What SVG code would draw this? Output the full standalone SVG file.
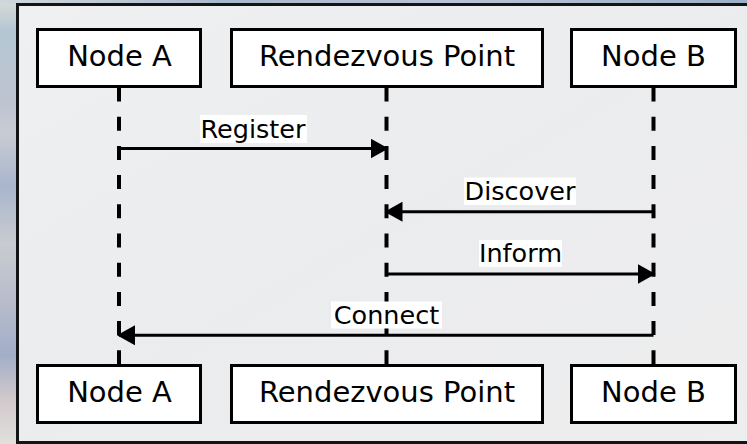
<svg xmlns="http://www.w3.org/2000/svg" width="747" height="444" viewBox="0 0 747 444">
  <defs>
    <linearGradient id="bgGrad" x1="0" y1="0" x2="0" y2="1">
      <stop offset="0" stop-color="#d8dcd8"/>
      <stop offset="0.07" stop-color="#b4c6d2"/>
      <stop offset="0.22" stop-color="#bcc4d0"/>
      <stop offset="0.3" stop-color="#c8ccd4"/>
      <stop offset="0.42" stop-color="#a8b6cc"/>
      <stop offset="0.55" stop-color="#c8ccd0"/>
      <stop offset="0.68" stop-color="#b8bccc"/>
      <stop offset="0.8" stop-color="#a2aec8"/>
      <stop offset="0.9" stop-color="#d2c9cc"/>
      <stop offset="1" stop-color="#e0e0dc"/>
    </linearGradient>
    <linearGradient id="topGrad" x1="0" y1="0" x2="1" y2="0">
      <stop offset="0" stop-color="#d0d8dc"/>
      <stop offset="0.3" stop-color="#a8b8cc"/>
      <stop offset="0.6" stop-color="#b8c4d4"/>
      <stop offset="1" stop-color="#9cb0c8"/>
    </linearGradient>
    <linearGradient id="panelGrad" x1="0" y1="0" x2="1" y2="1">
      <stop offset="0" stop-color="#eef0f1"/>
      <stop offset="0.5" stop-color="#ebecee"/>
      <stop offset="1" stop-color="#eeeeef"/>
    </linearGradient>
    <marker id="arrow" viewBox="0 0 18 20" refX="16" refY="10" markerWidth="18" markerHeight="20" markerUnits="userSpaceOnUse" orient="auto">
      <path d="M0,0 L18,10 L0,20 z" fill="#000"/>
    </marker>
    <style>
      .box { fill: #ffffff; stroke: #000000; stroke-width: 3; }
      .nodeText { font-family: "DejaVu Sans", "Liberation Sans", sans-serif; font-size: 29px; fill: #000; text-anchor: middle; }
      .lifeline { stroke: #000; stroke-width: 4; stroke-dasharray: 14 15.2; fill: none; }
      .msg { stroke: #000; stroke-width: 3; fill: none; marker-end: url(#arrow); }
      .labelBg { fill: #ffffff; }
      .labelText { font-family: "DejaVu Sans", "Liberation Sans", sans-serif; font-size: 25.5px; fill: #000; text-anchor: middle; }
    </style>
  </defs>

  <!-- background -->
  <rect x="0" y="0" width="747" height="444" fill="url(#bgGrad)"/>
  <rect x="0" y="0" width="747" height="4" fill="url(#topGrad)"/>
  <rect x="17.5" y="4.5" width="740" height="438" fill="url(#panelGrad)" stroke="#141414" stroke-width="3"/>

  <!-- lifelines -->
  <g id="lifelines">
    <line class="lifeline" x1="119" y1="87.5" x2="119" y2="364"/>
    <line class="lifeline" x1="386.5" y1="87.5" x2="386.5" y2="364"/>
    <line class="lifeline" x1="653.5" y1="87.5" x2="653.5" y2="364"/>
  </g>

  <!-- connectors -->
  <g id="connectors">
    <g id="msg-register">
      <line class="msg" x1="119" y1="148.5" x2="386.5" y2="148.5"/>
      <rect class="labelBg" x="200" y="115" width="107" height="28"/>
      <text class="labelText" x="253" y="138">Register</text>
    </g>
    <g id="msg-discover">
      <line class="msg" x1="653.5" y1="211.7" x2="386.5" y2="211.7"/>
      <rect class="labelBg" x="464" y="177.5" width="112" height="27.5"/>
      <text class="labelText" x="520" y="200">Discover</text>
    </g>
    <g id="msg-inform">
      <line class="msg" x1="386.5" y1="274" x2="653.5" y2="274"/>
      <rect class="labelBg" x="479" y="240" width="83" height="27"/>
      <text class="labelText" x="520.5" y="262">Inform</text>
    </g>
    <g id="msg-connect">
      <line class="msg" x1="653.5" y1="335.3" x2="119" y2="335.3"/>
      <rect class="labelBg" x="331" y="301.5" width="111" height="27"/>
      <text class="labelText" x="386.5" y="324">Connect</text>
    </g>
  </g>

  <!-- nodes top -->
  <g id="nodeA-top">
    <rect class="box" x="37.5" y="29.5" width="163" height="57"/>
    <text class="nodeText" x="119.5" y="66">Node A</text>
  </g>
  <g id="rendezvous-top">
    <rect class="box" x="231.5" y="29.5" width="311" height="57"/>
    <text class="nodeText" x="387" y="66">Rendezvous Point</text>
  </g>
  <g id="nodeB-top">
    <rect class="box" x="571.5" y="29.5" width="164" height="57"/>
    <text class="nodeText" x="653.5" y="66">Node B</text>
  </g>

  <!-- nodes bottom -->
  <g id="nodeA-bottom">
    <rect class="box" x="37.5" y="365.5" width="163" height="57"/>
    <text class="nodeText" x="119.5" y="402">Node A</text>
  </g>
  <g id="rendezvous-bottom">
    <rect class="box" x="231.5" y="365.5" width="311" height="57"/>
    <text class="nodeText" x="387" y="402">Rendezvous Point</text>
  </g>
  <g id="nodeB-bottom">
    <rect class="box" x="571.5" y="365.5" width="164" height="57"/>
    <text class="nodeText" x="653.5" y="402">Node B</text>
  </g>
</svg>
